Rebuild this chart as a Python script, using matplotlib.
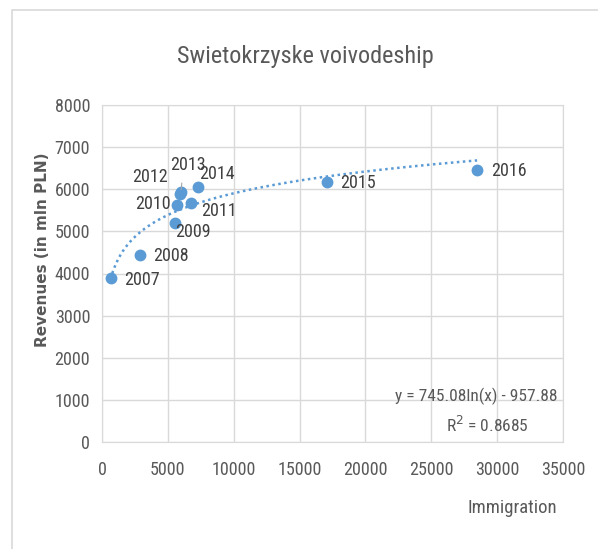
import numpy as np
import matplotlib
matplotlib.use("Agg")
import matplotlib.pyplot as plt
from matplotlib import font_manager
from matplotlib.patches import Rectangle

# data
years = ["2007", "2008", "2009", "2010", "2011", "2012", "2013", "2014", "2015", "2016"]
immigration = [650, 2880, 5530, 5680, 6740, 5950, 6000, 7270, 17050, 28480]
revenues = [3900, 4450, 5190, 5620, 5670, 5880, 5930, 6050, 6170, 6450]

# trendline shown on the chart: y = a*ln(x) + b
trend_a = 745.08
trend_b = -957.88
r2 = 0.8685

# label offsets (pixels) and alignment
label_off = [(14, -2), (13, -1), (0, -9), (-6, 1), (10, -8),
             (-12, 17), (-11, 27), (1, 13), (14, -1), (14, -1)]
label_ha = ["left", "left", "left", "right", "left",
            "right", "left", "left", "left", "left"]

# pick a narrow font if one is installed
installed = {f.name for f in font_manager.fontManager.ttflist}
narrow_pref = ["Liberation Sans Narrow", "Roboto Condensed", "Open Sans Condensed",
               "Noto Sans Condensed", "DejaVu Sans Condensed", "Liberation Sans"]
narrow = [f for f in narrow_pref if f in installed][:1] + ["DejaVu Sans"]

blue = "#5B9BD5"
grid_c = "#D9D9D9"
txt_c = "#595959"

W, H = 598, 549
fig = plt.figure(figsize=(W / 100, H / 100), dpi=100)
fig.patches.append(Rectangle((12 / W, -0.1), 1.2, 1 - 10 / H + 0.1,
                             transform=fig.transFigure, fill=False,
                             edgecolor=grid_c, linewidth=1.2))

ax = fig.add_axes([102 / W, 1 - 442 / H, (563 - 102) / W, (442 - 105) / H])
ax.set_xlim(0, 35000)
ax.set_ylim(0, 8000)
ax.set_xticks(np.arange(0, 35001, 5000))
ax.set_yticks(np.arange(0, 8001, 1000))
ax.grid(True, color=grid_c, linewidth=1)
ax.set_axisbelow(True)
for s in ax.spines.values():
    s.set_color(grid_c)
ax.tick_params(length=0, colors=txt_c, labelsize=13)
ax.tick_params(axis="x", pad=14)
ax.tick_params(axis="y", pad=8.5)
for lab in ax.get_xticklabels() + ax.get_yticklabels():
    lab.set_family(narrow)

# trendline
xt = np.linspace(min(immigration), max(immigration), 300)
ax.plot(xt, trend_a * np.log(xt) + trend_b, color=blue, linewidth=1.8,
        linestyle=(0, (1, 1.4)), zorder=2)

ax.plot(immigration, revenues, "o", color=blue, markersize=7.5, zorder=3)

for i, yr in enumerate(years):
    ax.annotate(yr, (immigration[i], revenues[i]), xytext=label_off[i],
                textcoords="offset pixels", ha=label_ha[i], va="center",
                fontsize=13, color="#404040", family=narrow, zorder=4)
# leader line for 2013
ax.annotate("", (immigration[6], revenues[6]), xytext=(1, 12),
            textcoords="offset pixels",
            arrowprops=dict(arrowstyle="-", color="#A6A6A6", lw=0.8))

ax.text(0.989, 0.135, "y = 745.08ln(x) - 957.88", transform=ax.transAxes,
        ha="right", va="center", fontsize=12.5, color=txt_c, family=narrow)
ax.text(0.835, 0.05, "R$^2$ = " + str(r2), transform=ax.transAxes,
        ha="center", va="center", fontsize=12.5, color=txt_c, family=narrow)

fig.text(305 / W, 1 - 57 / H, "Swietokrzyske voivodeship", ha="center",
         va="center", fontsize=17.5, color=txt_c, family=narrow)
fig.text(43 / W, 1 - 250 / H, "Revenues (in mln PLN)", rotation=90,
         ha="center", va="center", fontsize=11, color=txt_c,
         fontweight="semibold")
fig.text(512 / W, 1 - 508 / H, "Immigration", ha="center", va="center",
         fontsize=13.5, color=txt_c, family=narrow)

fig.savefig("out.png", dpi=100)
